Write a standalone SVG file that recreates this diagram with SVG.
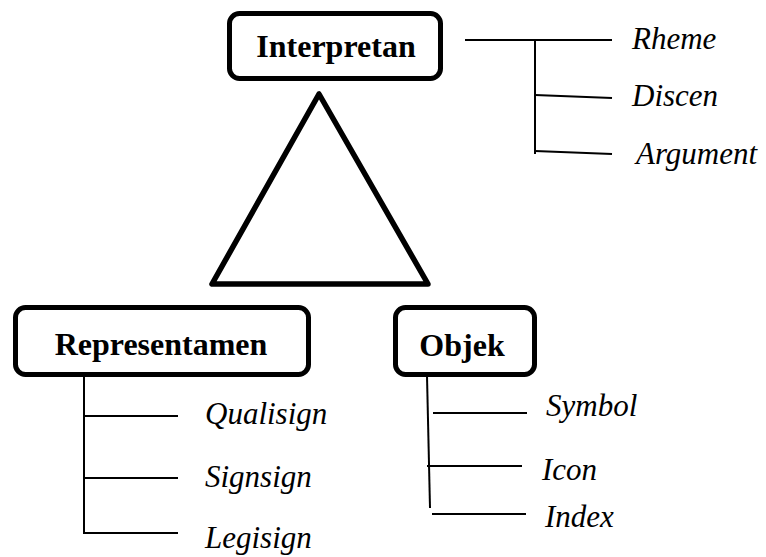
<svg xmlns="http://www.w3.org/2000/svg" width="766" height="557" viewBox="0 0 766 557">
<style>
.box{fill:#fff;stroke:#000;stroke-width:5}
.tri{fill:#fff;stroke:#000;stroke-width:5.5;stroke-linejoin:round}
.lbl{font-size:32px;font-weight:bold;fill:#000;text-anchor:middle}
.it{font-size:31px;font-style:italic;fill:#000}
.ln{stroke:#000;stroke-width:2;fill:none}
</style>
<rect width="766" height="557" fill="#fff"/>
<polygon class="tri" points="319,94 212,284 428,284"/>
<g font-family="Liberation Serif, serif">
<g id="interpretan">
<rect class="box" x="229.5" y="13.5" width="211" height="65" rx="10"/>
<text class="lbl" x="336" y="57">Interpretan</text>
</g>
<g id="representamen">
<rect class="box" x="15.5" y="307.5" width="293" height="67" rx="10"/>
<text class="lbl" x="161" y="355">Representamen</text>
</g>
<g id="objek">
<rect class="box" x="395.5" y="307.5" width="139" height="67" rx="10"/>
<text class="lbl" x="462" y="356">Objek</text>
</g>
<g id="rheme"><text class="it" x="632" y="49">Rheme</text></g>
<g id="discen"><text class="it" x="632" y="106">Discen</text></g>
<g id="argument"><text class="it" x="636" y="164">Argument</text></g>
<g id="qualisign"><text class="it" x="205" y="424">Qualisign</text></g>
<g id="signsign"><text class="it" x="205" y="487">Signsign</text></g>
<g id="legisign"><text class="it" x="205" y="548">Legisign</text></g>
<g id="symbol"><text class="it" x="546" y="416">Symbol</text></g>
<g id="icon"><text class="it" x="542" y="480">Icon</text></g>
<g id="index"><text class="it" x="545" y="527">Index</text></g>
</g>
<g id="connectors">
<line class="ln" x1="465" y1="40" x2="612" y2="40"/>
<line class="ln" x1="535" y1="40" x2="535" y2="154"/>
<line class="ln" x1="535" y1="95" x2="612" y2="98"/>
<line class="ln" x1="535" y1="151" x2="612" y2="154"/>
<line class="ln" x1="84" y1="376" x2="84" y2="534"/>
<line class="ln" x1="84" y1="416" x2="178" y2="416"/>
<line class="ln" x1="84" y1="478" x2="178" y2="478"/>
<line class="ln" x1="83" y1="533" x2="178" y2="533"/>
<line class="ln" x1="427" y1="376" x2="430" y2="508"/>
<line class="ln" x1="433" y1="413" x2="527" y2="413"/>
<line class="ln" x1="427" y1="466" x2="522" y2="466"/>
<line class="ln" x1="432" y1="514" x2="526" y2="514"/>
</g>
</svg>
